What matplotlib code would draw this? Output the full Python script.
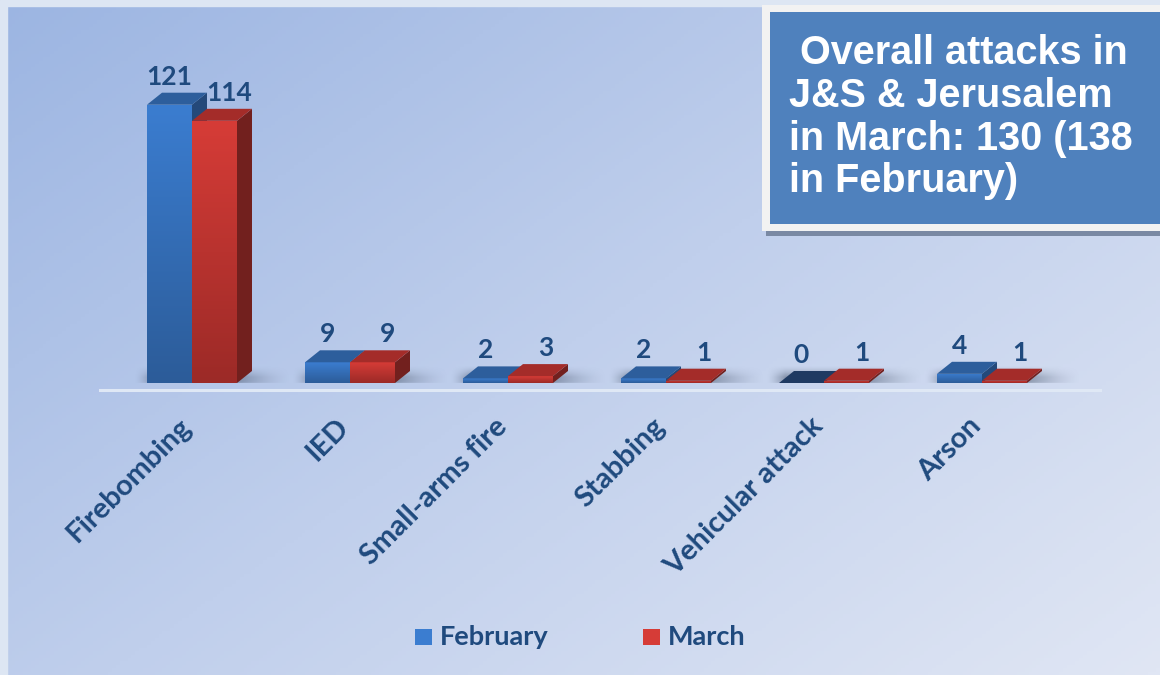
import numpy as np
import matplotlib.pyplot as plt
from matplotlib.patches import Polygon, Rectangle
from matplotlib.colors import LinearSegmentedColormap

# Data
categories = ['Firebombing', 'IED', 'Small-arms fire', 'Stabbing', 'Vehicular attack', 'Arson']
february = [121, 9, 2, 2, 0, 4]
march = [114, 9, 3, 1, 1, 1]
series_names = ['February', 'March']
title_lines = [' Overall attacks in', 'J&S & Jerusalem', 'in March: 130 (138', 'in February)']

NAVY = '#1f4a7e'

fig = plt.figure(figsize=(11.6, 6.75), dpi=100)

# background gradient (top-left darker blue -> bottom-right pale)
bg = fig.add_axes([0, 0, 1, 1])
bg.set_axis_off()
yy, xx = np.mgrid[0:1:200j, 0:1:300j]
grad = 0.55 * xx + 0.45 * yy
bg_cmap = LinearSegmentedColormap.from_list('bg', ['#9cb5e2', '#c0cfec', '#e0e6f4'])
bg.imshow(grad, cmap=bg_cmap, extent=[0, 1, 0, 1], aspect='auto', origin='upper')
bg.set_xlim(0, 1)
bg.set_ylim(0, 1)
# thin light frame at top and left
bg.add_patch(Rectangle((0, 1 - 6 / 675), 1, 6 / 675, color='#dde6f3', zorder=3))
bg.add_patch(Rectangle((0, 0), 7 / 1160, 1, color='#dde6f3', zorder=3))

# main chart axes: x in category units, y in values
px_per_val = 2.3
base_px = 383
left_px, right_px = 100, 1100
cat0_px, step_px = 192, 158
x_lo = (left_px - cat0_px) / step_px
x_hi = (right_px - cat0_px) / step_px
top_px = 10
y_hi = (base_px - top_px) / px_per_val
ax = fig.add_axes([left_px / 1160, (675 - base_px) / 675,
                   (right_px - left_px) / 1160, (base_px - top_px) / 675])
ax.set_xlim(x_lo, x_hi)
ax.set_ylim(0, y_hi)
ax.set_axis_off()

width = 45 / step_px
dx = 15 / step_px
dy = 12 / px_per_val

# floor line
ax.plot([x_lo, x_hi], [-7 / px_per_val, -7 / px_per_val], color='#dfe8f5', lw=2.2,
        clip_on=False, zorder=1)

styles = {
    'February': dict(front=('#3b7dd0', '#2c5c99'), top='#2d5e9c', side='#24497a'),
    'March': dict(front=('#d63c37', '#9c2a27'), top='#a42c29', side='#72201e'),
}

# smooth shadow blob used on the floor under each bar pair
sx = np.linspace(0, 1, 120)
sy = np.linspace(0, 1, 30)
prof_x = np.clip(np.minimum(sx / 0.12, (1 - sx) / 0.35), 0, 1) ** 1.5
prof_y = np.clip(np.minimum(sy / 0.3, (1 - sy) / 0.5), 0, 1) ** 1.5
shadow = np.zeros((30, 120, 4))
shadow[..., :3] = np.array([0.32, 0.37, 0.46])
shadow[..., 3] = 0.55 * np.outer(prof_y, prof_x)


def draw_shadow(x0, x1, z):
    ax.imshow(shadow, extent=[x0 - 0.08, x1 + dx + 0.25, -2.5, dy + 2.5],
              origin='lower', aspect='auto', zorder=z, interpolation='bilinear')


def draw_bar(x0, h, st, z):
    x1 = x0 + width
    if h > 0:
        front = ax.bar(x0, h, width=width, align='edge', color=st['front'][0],
                       zorder=z, linewidth=0)[0]
        cm = LinearSegmentedColormap.from_list('f', [st['front'][1], st['front'][0]])
        img = ax.imshow(np.linspace(0, 1, 100).reshape(-1, 1), cmap=cm,
                        extent=[x0, x1, 0, h], origin='lower', aspect='auto', zorder=z)
        img.set_clip_path(front)
        side = Polygon([(x1, 0), (x1 + dx, dy), (x1 + dx, h + dy), (x1, h)],
                       closed=True, facecolor=st['side'], edgecolor='none', zorder=z)
        ax.add_patch(side)
        topc = st['top']
    else:
        topc = '#1f3a62'
    top = Polygon([(x0, h), (x1, h), (x1 + dx, h + dy), (x0 + dx, h + dy)],
                  closed=True, facecolor=topc, edgecolor='none', zorder=z)
    ax.add_patch(top)


label_gap = 4 / px_per_val
for i, cat in enumerate(categories):
    # February bar sits left of the category centre, March right
    xb = i - width
    xr = i
    draw_shadow(xb, xr + width, 2)
    draw_bar(xb, february[i], styles['February'], 4)
    draw_bar(xr, march[i], styles['March'], 6)
    ax.text(xb + width / 2, february[i] + dy + label_gap, str(february[i]),
            ha='center', va='bottom', fontsize=19, fontweight='bold',
            color=NAVY, family='Lato', zorder=10)
    ax.text(xr + width / 2 + dx, march[i] + dy + label_gap, str(march[i]),
            ha='center', va='bottom', fontsize=19, fontweight='bold',
            color=NAVY, family='Lato', zorder=10)
    ax.text(i - 0.09, -30 / px_per_val, cat, rotation=45, rotation_mode='anchor',
            ha='right', va='top', fontsize=21, fontweight='bold', color=NAVY,
            family='Lato', clip_on=False)

ax.set_xlim(x_lo, x_hi)
ax.set_ylim(0, y_hi)

# legend
leg_y = 1 - 637 / 675
for name, lx in zip(series_names, [415, 643]):
    st = styles[name]
    bg.add_patch(Rectangle((lx / 1160, leg_y - 8 / 675), 17 / 1160, 16 / 675,
                           facecolor=st['front'][0], edgecolor='none', zorder=4))
    bg.text((lx + 25) / 1160, leg_y, name, ha='left', va='center', fontsize=19.5,
            fontweight='bold', color=NAVY, family='Lato', zorder=4)

# title box with shadow and light border
bg.add_patch(Rectangle((766 / 1160, 1 - 236 / 675), 394 / 1160, 10 / 675,
                       facecolor='#7a89a3', edgecolor='none', zorder=4))
bg.add_patch(Rectangle((762 / 1160, 1 - 231 / 675), 398 / 1160, 226 / 675,
                       facecolor='#f2f2f2', edgecolor='none', zorder=5))
bg.add_patch(Rectangle((770 / 1160, 1 - 224 / 675), 390 / 1160, 212 / 675,
                       facecolor='#4f81bd', edgecolor='none', zorder=6))
bg.text(789 / 1160, 1 - 34 / 675, '\n'.join(title_lines), ha='left', va='top',
        fontsize=28.5, fontweight='bold', color='white', family='Liberation Sans',
        linespacing=1.16, zorder=7)

fig.savefig('out.png', dpi=100)
